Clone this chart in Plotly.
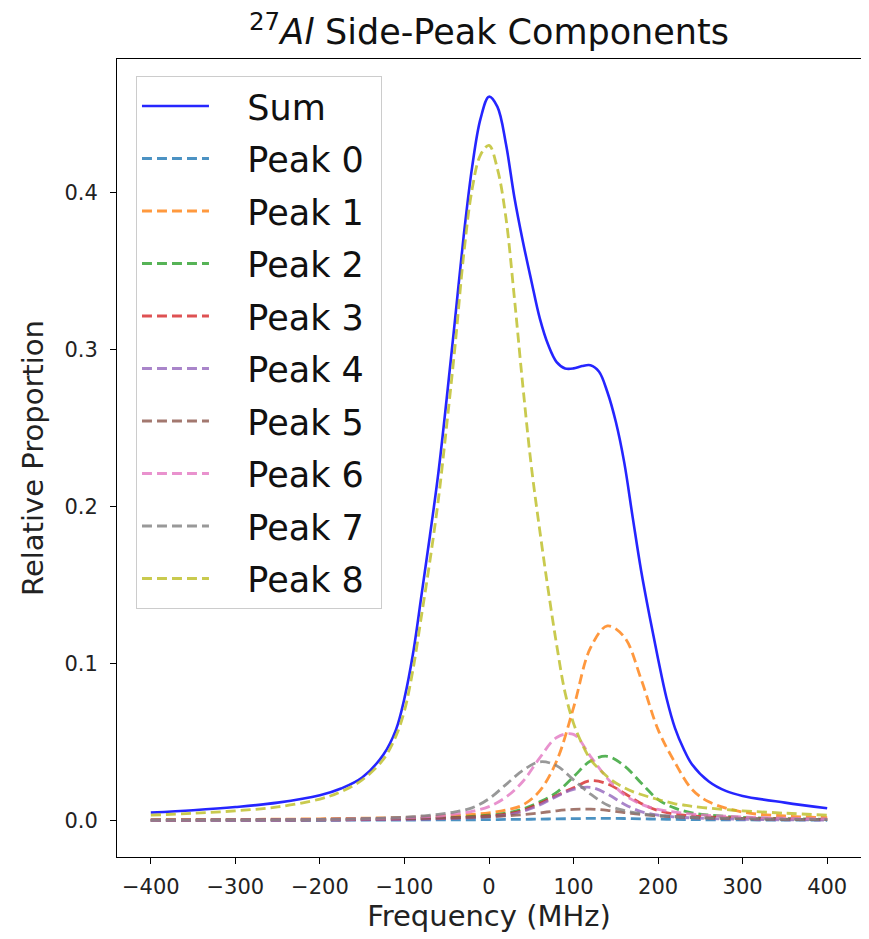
import plotly.graph_objects as go

# Fine sampling for the large curves (Sum, Peak 8)
freq_fine = [-400, -350, -300, -250, -200, -175, -150, -125, -110, -100, -90, -80, -70, -60,
             -50, -40, -30, -20, -10, 0, 10, 20, 30, 40, 50, 60, 70, 80, 90, 100, 110, 120,
             130, 140, 150, 160, 170, 180, 190, 200, 210, 220, 230, 240, 260, 280, 300, 350, 400]

sum_vals = [0.0052, 0.0067, 0.0087, 0.0115, 0.0162, 0.0205, 0.0275, 0.0420, 0.0580, 0.0780,
            0.1060, 0.1430, 0.1810, 0.2210, 0.2690, 0.3200, 0.3720, 0.4160, 0.4470, 0.4610,
            0.4545, 0.4310, 0.3970, 0.3690, 0.3440, 0.3200, 0.3030, 0.2920, 0.2880, 0.2880,
            0.2895, 0.2900, 0.2860, 0.2730, 0.2540, 0.2280, 0.1930, 0.1590, 0.1300, 0.1030,
            0.0780, 0.0590, 0.0460, 0.0360, 0.0250, 0.0190, 0.0158, 0.0115, 0.0079]

peak8 = [0.0035, 0.0048, 0.0063, 0.0088, 0.0138, 0.0185, 0.0260, 0.0390, 0.0540, 0.0700,
         0.0960, 0.1300, 0.1650, 0.2040, 0.2520, 0.3030, 0.3600, 0.4020, 0.4240, 0.4300,
         0.4150, 0.3840, 0.3330, 0.2770, 0.2260, 0.1850, 0.1470, 0.1120, 0.0815, 0.0620,
         0.0490, 0.0390, 0.0330, 0.0280, 0.0240, 0.0210, 0.0185, 0.0167, 0.0150, 0.0135,
         0.0121, 0.0108, 0.0100, 0.0092, 0.0080, 0.0071, 0.0063, 0.0048, 0.0035]

# Coarser sampling for the small side peaks
freq = [-400, -350, -300, -250, -200, -175, -150, -125, -100, -80, -60, -40, -20, 0, 20, 40,
        60, 80, 100, 120, 140, 160, 180, 200, 220, 240, 260, 300, 350, 400]

peak0 = [0.0002, 0.0002, 0.0002, 0.0003, 0.0003, 0.0003, 0.0004, 0.0004, 0.0004, 0.0005,
         0.0005, 0.0006, 0.0006, 0.0007, 0.0008, 0.0009, 0.0010, 0.0012, 0.0013, 0.0015,
         0.0015, 0.0014, 0.0012, 0.0010, 0.0008, 0.0007, 0.0006, 0.0005, 0.0004, 0.0003]

peak1 = [0.0006, 0.0007, 0.0008, 0.0010, 0.0012, 0.0014, 0.0016, 0.0018, 0.0021, 0.0024,
         0.0028, 0.0033, 0.0040, 0.0050, 0.0068, 0.0100, 0.0190, 0.0380, 0.0720, 0.1100,
         0.1240, 0.1170, 0.0900, 0.0580, 0.0370, 0.0200, 0.0120, 0.0055, 0.0030, 0.0020]

peak2 = [0.0003, 0.0003, 0.0004, 0.0005, 0.0006, 0.0007, 0.0008, 0.0010, 0.0012, 0.0014,
         0.0017, 0.0021, 0.0027, 0.0035, 0.0048, 0.0075, 0.0120, 0.0180, 0.0280, 0.0380,
         0.0410, 0.0350, 0.0240, 0.0135, 0.0080, 0.0050, 0.0036, 0.0021, 0.0013, 0.0009]

peak3 = [0.0003, 0.0003, 0.0004, 0.0004, 0.0005, 0.0006, 0.0007, 0.0008, 0.0010, 0.0012,
         0.0014, 0.0018, 0.0023, 0.0030, 0.0042, 0.0065, 0.0110, 0.0160, 0.0210, 0.0255,
         0.0235, 0.0175, 0.0110, 0.0065, 0.0042, 0.0030, 0.0024, 0.0015, 0.0010, 0.0007]

peak4 = [0.0002, 0.0002, 0.0003, 0.0003, 0.0004, 0.0005, 0.0006, 0.0007, 0.0008, 0.0010,
         0.0012, 0.0015, 0.0019, 0.0025, 0.0035, 0.0060, 0.0100, 0.0155, 0.0200, 0.0213,
         0.0170, 0.0105, 0.0058, 0.0035, 0.0024, 0.0018, 0.0014, 0.0009, 0.0006, 0.0004]

peak5 = [0.0005, 0.0006, 0.0007, 0.0008, 0.0009, 0.0010, 0.0011, 0.0012, 0.0013, 0.0015,
         0.0017, 0.0019, 0.0022, 0.0026, 0.0031, 0.0039, 0.0050, 0.0063, 0.0072, 0.0074,
         0.0066, 0.0052, 0.0040, 0.0030, 0.0024, 0.0020, 0.0017, 0.0013, 0.0009, 0.0007]

peak6 = [0.0003, 0.0004, 0.0005, 0.0006, 0.0008, 0.0010, 0.0012, 0.0015, 0.0019, 0.0024,
         0.0030, 0.0042, 0.0060, 0.0090, 0.0150, 0.0250, 0.0400, 0.0530, 0.0550, 0.0410,
         0.0270, 0.0165, 0.0105, 0.0072, 0.0055, 0.0042, 0.0034, 0.0024, 0.0016, 0.0012]

peak7 = [0.0003, 0.0004, 0.0005, 0.0006, 0.0008, 0.0010, 0.0013, 0.0017, 0.0023, 0.0030,
         0.0040, 0.0057, 0.0082, 0.0140, 0.0230, 0.0320, 0.0375, 0.0350, 0.0260, 0.0170,
         0.0100, 0.0065, 0.0045, 0.0034, 0.0027, 0.0022, 0.0018, 0.0013, 0.0009, 0.0007]

peak_names = ["Peak 0", "Peak 1", "Peak 2", "Peak 3", "Peak 4", "Peak 5", "Peak 6", "Peak 7", "Peak 8"]
peak_x = [freq, freq, freq, freq, freq, freq, freq, freq, freq_fine]
peak_series = [peak0, peak1, peak2, peak3, peak4, peak5, peak6, peak7, peak8]
peak_colors = ["#1f77b4", "#ff7f0e", "#2ca02c", "#d62728", "#9467bd",
               "#8c564b", "#e377c2", "#7f7f7f", "#bcbd22"]

x_tick_vals = [-400, -300, -200, -100, 0, 100, 200, 300, 400]
x_tick_text = ["\u2212400", "\u2212300", "\u2212200", "\u2212100", "0", "100", "200", "300", "400"]
y_tick_vals = [0.0, 0.1, 0.2, 0.3, 0.4]
y_tick_text = ["0.0", "0.1", "0.2", "0.3", "0.4"]

FONT = "DejaVu Sans"
PAD = "\u00a0\u00a0\u00a0"
TAIL = "\u00a0"

fig = go.Figure()
fig.add_trace(go.Scatter(x=freq_fine, y=sum_vals, mode="lines", name=PAD + "Sum" + TAIL,
                         legendgroup="g_sum",
                         line=dict(color="#0000ff", width=2.6, shape="spline", smoothing=1.0),
                         opacity=0.85))
for name, xs, vals, col in zip(peak_names, peak_x, peak_series, peak_colors):
    fig.add_trace(go.Scatter(x=xs, y=vals, mode="lines", name=PAD + name + TAIL,
                             legendgroup="g_" + name,
                             line=dict(color=col, width=2.8, dash="10px,5px",
                                       shape="spline", smoothing=1.0),
                             opacity=0.8))

# the page has an 8px body margin, so the figure is sized to fit inside the window
fig.update_layout(
    width=861, height=931,
    margin=dict(l=109, r=8, t=51, b=82),
    paper_bgcolor="white", plot_bgcolor="white",
    font=dict(family=FONT, color="black"),
    title=dict(text="<sup>27</sup><i>Al</i> Side-Peak Components",
               x=0.5, xref="paper", xanchor="center",
               y=1 - 24 / 931, yref="container", yanchor="middle",
               font=dict(size=35, family=FONT, color="#111111")),
    showlegend=True,
    legend=dict(x=0.0255, y=0.979, xanchor="left", yanchor="top",
                bgcolor="rgba(255,255,255,0.85)", bordercolor="#cccccc", borderwidth=1,
                font=dict(size=35, family=FONT, color="#111111"),
                tracegroupgap=4, itemwidth=67),
    xaxis=dict(range=[-440, 440], tickvals=x_tick_vals, ticktext=x_tick_text,
               ticks="outside", ticklen=6, tickwidth=1, tickcolor="black",
               showline=True, linecolor="black", linewidth=1, mirror=True,
               showgrid=False, zeroline=False, automargin=False,
               ticklabelstandoff=5,
               tickfont=dict(size=21, family=FONT, color="#222222"),
               title=dict(text="Frequency (MHz)", font=dict(size=29, family=FONT, color="#222222"),
                          standoff=4)),
    yaxis=dict(range=[-0.0231, 0.485], tickvals=y_tick_vals, ticktext=y_tick_text,
               ticks="outside", ticklen=6, tickwidth=1, tickcolor="black",
               showline=True, linecolor="black", linewidth=1, mirror=True,
               showgrid=False, zeroline=False, automargin=False,
               ticklabelstandoff=8,
               tickfont=dict(size=21, family=FONT, color="#222222"),
               title=dict(text="Relative Proportion", font=dict(size=29, family=FONT, color="#222222"),
                          standoff=12)),
)

fig.write_html("out.html")
